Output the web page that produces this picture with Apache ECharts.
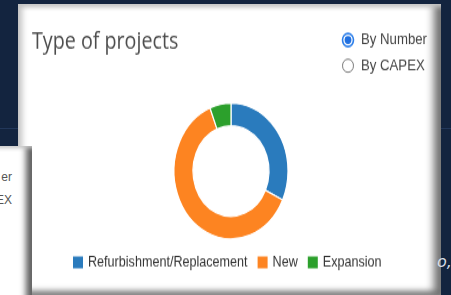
<!DOCTYPE html>
<html>
<head>
<meta charset="utf-8">
<script src="https://cdn.jsdelivr.net/npm/echarts@6/dist/echarts.min.js"></script>
<style>
  html, body {
    margin: 0;
    padding: 0;
    width: 451px;
    height: 295px;
    overflow: hidden;
    background: #13243f;
  }
  .rule {
    position: absolute;
    left: 0;
    top: 128px;
    width: 451px;
    height: 1px;
    background: #22375a;
  }
  .card-main {
    position: absolute;
    left: 18px;
    top: 4px;
    width: 423px;
    height: 291px;
    box-sizing: border-box;
    background: #fff;
    box-shadow: inset 7px 0 6px -3px #c2c2c2, inset 0 6px 5px -3px #c8c8c8,
      inset -10px 0 8px -3px #6d6d6d, inset 0 -7px 6px -3px #7a7a7a;
  }
  .card-left {
    position: absolute;
    left: -20px;
    top: 146px;
    width: 52px;
    height: 160px;
    box-sizing: border-box;
    background: #fff;
    box-shadow: inset 0 5px 4px -3px #c9c9c9, inset -9px 0 6px -3px #5e5e5e;
    font-family: "Liberation Sans", Arial, sans-serif;
    font-size: 12px;
    color: #555;
  }
  .card-left span {
    position: absolute;
    right: 20px;
  }
  .side-text {
    position: absolute;
    left: 437px;
    top: 252px;
    font-family: "DejaVu Sans", sans-serif;
    font-style: italic;
    font-size: 16px;
    color: #d8dde6;
  }
  #chart {
    position: absolute;
    left: 0;
    top: 0;
    width: 451px;
    height: 248px;
    transform: scale(1, 1.19);
    transform-origin: 0 0;
  }
</style>
</head>
<body>
<div class="rule"></div>
<div class="card-main"></div>
<div class="card-left">
  <span style="top:24px">er</span>
  <span style="top:47px">EX</span>
</div>
<div class="side-text">o,</div>
<div id="chart"></div>
<script>
var titleText = "Type of projects";
var categories = ["Refurbishment/Replacement", "New", "Expansion"];
var counts = [16, 31, 3];
var colors = ["#2a7bbd", "#fd8421", "#2ca02c"];
var radioLabels = ["By Number", "By CAPEX"];

var mychart = echarts.init(document.getElementById("chart"));

var pieData = [];
for (var i = 0; i < categories.length; i++) {
  pieData.push({ name: categories[i], value: counts[i] });
}

var radios = [];
for (var j = 0; j < radioLabels.length; j++) {
  var cy = 33.6 + j * 21.6;
  radios.push({
    type: "circle",
    shape: { cx: 348, cy: cy, r: 5.5 },
    style: j === 0
      ? { fill: "#fff", stroke: "#2a7de9", lineWidth: 1.6 }
      : { fill: "#fff", stroke: "#777", lineWidth: 1 }
  });
  if (j === 0) {
    radios.push({
      type: "circle",
      shape: { cx: 348, cy: cy, r: 3.4 },
      style: { fill: "#1f6fe0" }
    });
  }
  radios.push({
    type: "text",
    x: 361,
    y: cy,
    style: {
      text: radioLabels[j],
      fill: "#444",
      font: "13.2px 'Liberation Sans', Arial, sans-serif",
      verticalAlign: "middle"
    }
  });
}

var option = {
  color: colors,
  title: {
    text: titleText,
    left: 32,
    top: 25,
    padding: 0,
    textStyle: {
      fontFamily: "Open Sans",
      fontSize: 19.7,
      fontWeight: "normal",
      color: "#4d4d4d"
    }
  },
  legend: {
    data: categories,
    left: 73,
    top: 214,
    padding: 0,
    itemWidth: 10,
    itemHeight: 10,
    itemGap: 10,
    icon: "rect",
    itemStyle: { borderWidth: 0 },
    textStyle: {
      fontFamily: "Liberation Sans",
      fontSize: 12.6,
      color: "#333"
    }
  },
  graphic: radios,
  series: [
    {
      type: "pie",
      center: [231, 143.7],
      radius: [38, 57],
      startAngle: 90,
      clockwise: true,
      label: { show: false },
      labelLine: { show: false },
      emphasis: { disabled: true },
      itemStyle: { borderColor: "#fff", borderWidth: 1.2 },
      data: pieData
    }
  ]
};
mychart.setOption(option, true);
</script>
</body>
</html>
